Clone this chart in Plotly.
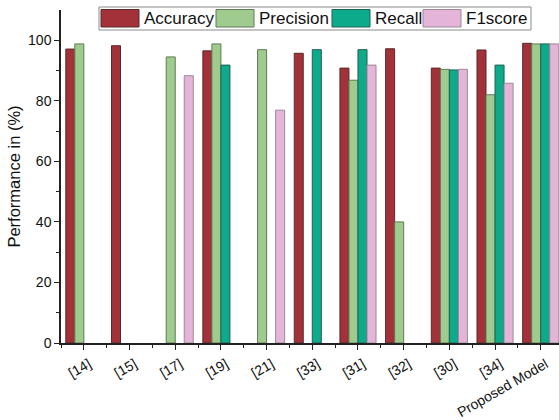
import plotly.graph_objects as go

categories = ["[14]", "[15]", "[17]", "[19]", "[21]", "[33]", "[31]", "[32]", "[30]", "[34]", "Proposed Model"]
series_names = ["Accuracy", "Precision", "Recall", "F1score"]
accuracy = [97.1, 98.2, None, 96.5, None, 95.7, 90.8, 97.2, 90.8, 96.8, 99.0]
precision = [98.8, None, 94.5, 98.8, 96.9, None, 86.8, 40.0, 90.4, 82.0, 98.8]
recall = [None, None, None, 91.8, None, 96.9, 96.9, None, 90.2, 91.8, 98.8]
f1score = [None, None, 88.3, None, 76.9, None, 91.8, None, 90.4, 85.8, 98.8]
y_ticks = [0, 20, 40, 60, 80, 100]

colors = ["#A2313A", "#9FCB8E", "#0DAB8B", "#E4B5D9"]
outlines = ["#5a2a2a", "#5f7a55", "#205e50", "#9a8a98"]
values = [accuracy, precision, recall, f1score]

W, H = 559, 420
ML, MR, MT, MB = 61, 0, 10, 77
PW, PH = W - ML - MR, H - MT - MB

fig = go.Figure()
for name, vals, c, oc in zip(series_names, values, colors, outlines):
    fig.add_trace(go.Bar(
        x=list(range(len(categories))), y=vals, name=name,
        marker=dict(color=c, line=dict(color=oc, width=1)),
        showlegend=False,
    ))

def px2x(p):
    return (p - ML) / PW

def px2y(p):
    return (H - MB - p) / PH

# Legend box drawn in paper coordinates
shapes = [dict(type="rect", xref="paper", yref="paper",
               x0=px2x(99), x1=px2x(531), y0=px2y(30), y1=px2y(7),
               line=dict(color="#8a8a8a", width=1), fillcolor="white", layer="above")]
annotations = []
swatch_left = [101, 216, 332, 423]
for name, c, oc, sx in zip(series_names, colors, outlines, swatch_left):
    shapes.append(dict(type="rect", xref="paper", yref="paper",
                       x0=px2x(sx), x1=px2x(sx + 38), y0=px2y(27), y1=px2y(9.5),
                       line=dict(color=oc, width=1), fillcolor=c, layer="above"))
    annotations.append(dict(xref="paper", yref="paper", x=px2x(sx + 41), y=px2y(18.5),
                            text=name, showarrow=False, xanchor="left", yanchor="middle",
                            font=dict(family="Arial, Liberation Sans", size=17, color="#111")))

fig.update_layout(
    width=W, height=H,
    margin=dict(l=ML, r=MR, t=MT, b=MB),
    paper_bgcolor="white", plot_bgcolor="white",
    barmode="group", bargap=0.21, bargroupgap=0,
    font=dict(family="Arial, Liberation Sans", color="#111"),
    shapes=shapes, annotations=annotations,
    xaxis=dict(
        automargin=False,
        range=[-0.5, 10.4],
        tickmode="array", tickvals=list(range(len(categories))), ticktext=categories,
        tickangle=-30, tickfont=dict(size=14, color="#111"),
        ticklabelshift=5, ticklabelstandoff=1,
        ticks="outside", ticklen=5, tickwidth=1.3, tickcolor="#222",
        minor=dict(ticks="outside", ticklen=3, tickwidth=1.3, tickcolor="#222",
                   tickmode="array", tickvals=[i + 0.5 for i in range(-1, len(categories))]),
        showline=True, linecolor="#222", linewidth=1.5,
        showgrid=False, zeroline=False,
    ),
    yaxis=dict(
        automargin=False,
        range=[0, 110],
        tickmode="array", tickvals=y_ticks, ticktext=[str(t) for t in y_ticks],
        tickfont=dict(size=14, color="#111"),
        ticks="outside", ticklen=5, tickwidth=1.3, tickcolor="#222",
        minor=dict(ticks="outside", ticklen=3, tickwidth=1.3, tickcolor="#222",
                   tickmode="array", tickvals=[10, 30, 50, 70, 90]),
        showline=True, linecolor="#222", linewidth=1.5,
        showgrid=False, zeroline=False,
        title=dict(text="Performance in (%)", font=dict(size=16.5, color="#111"), standoff=3),
    ),
)

fig.write_html("out.html", config={"displayModeBar": False},
               post_script="document.body.style.margin='0';document.body.style.overflow='hidden';")
